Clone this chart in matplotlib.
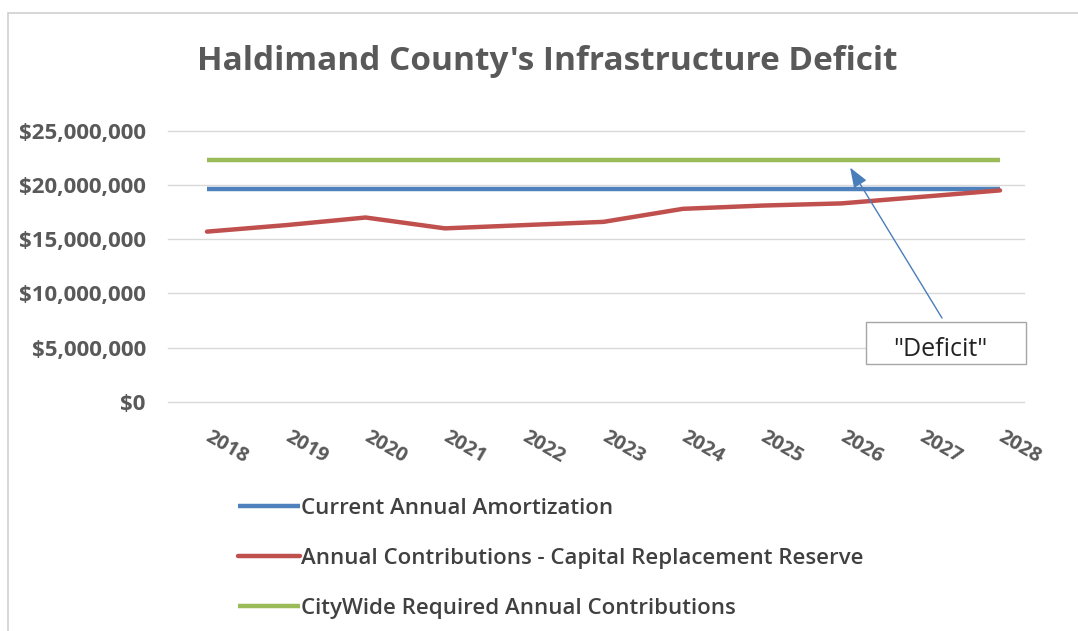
import matplotlib.pyplot as plt
from matplotlib.patches import Rectangle
from matplotlib.ticker import FuncFormatter

plt.rcParams['font.family'] = ['Open Sans', 'DejaVu Sans']

# data
years = [2018, 2019, 2020, 2021, 2022, 2023, 2024, 2025, 2026, 2027, 2028]
amortization = [19600000] * 11
reserve = [15700000, 16300000, 17000000, 16000000, 16300000, 16600000,
           17800000, 18100000, 18300000, 18900000, 19500000]
required = [22300000] * 11
series_names = ["Current Annual Amortization",
                "Annual Contributions - Capital Replacement Reserve",
                "CityWide Required Annual Contributions"]

W, H = 1078, 631
fig = plt.figure(figsize=(W / 100, H / 100), dpi=100)
ax = fig.add_axes([168 / W, 1 - 402 / H, (1024 - 168) / W, (402 - 130.7) / H])

grey = "#595959"
ax.plot(years, amortization, color="#4f81bd", lw=3.2, label=series_names[0], solid_capstyle="butt")
ax.plot(years, reserve, color="#c0504d", lw=3.2, label=series_names[1], solid_capstyle="round")
ax.plot(years, required, color="#9bbb59", lw=3.2, label=series_names[2], solid_capstyle="butt")

ax.set_ylim(0, 25000000)
ax.set_xlim(2018 - 39 / 79.3, 2028 + 24 / 79.3)
ax.set_yticks(range(0, 25000001, 5000000))
ax.yaxis.set_major_formatter(FuncFormatter(lambda v, p: "${:,.0f}".format(v)))
ax.set_xticks(years)
ax.set_xticklabels([str(y) for y in years], rotation=-30, ha="left", va="center",
                   rotation_mode="anchor")
ax.grid(axis="y", color="#d9d9d9", lw=1)
for gl in ax.get_ygridlines():
    gl.set_clip_on(False)
ax.set_axisbelow(True)
for s in ax.spines.values():
    s.set_visible(False)
ax.tick_params(axis="y", length=0, pad=16, labelsize=16, labelcolor=grey)
ax.tick_params(axis="x", length=0, pad=24, labelsize=14.5, labelcolor=grey)
for lbl in ax.get_xticklabels() + ax.get_yticklabels():
    lbl.set_fontweight("bold")

fig.text(547 / W, 1 - 62 / H, "Haldimand County's Infrastructure Deficit",
         ha="center", va="center", fontsize=24, fontweight="bold", color=grey)

# "Deficit" callout
fig.patches.append(Rectangle((866, H - 364), 160, 42, transform=None,
                             facecolor="white", edgecolor="#a6a6a6", lw=1, zorder=5))
fig.text(940 / W, 1 - 350 / H, '"Deficit"', ha="center", va="center",
         fontsize=18, color="#222222", zorder=6)
ax.annotate("", xy=(2026.11, 21600000), xytext=(942, H - 318),
            textcoords="figure pixels",
            arrowprops=dict(arrowstyle="-|>,head_length=1.2,head_width=0.45",
                            color="#4a7ebb", lw=1, shrinkA=0, shrinkB=0))

leg = fig.legend(loc="upper left", bbox_to_anchor=(218 / W, 1 - 478 / H), frameon=False,
                 handlelength=2.8, handletextpad=0.05, labelspacing=1.3,
                 fontsize=16, labelcolor="#404040")
for t in leg.get_texts():
    t.set_fontweight("semibold")

# light chart border
fig.patches.append(Rectangle((8, -5), W, H - 13 + 5, transform=None, facecolor="none",
                             edgecolor="#d0d0d0", lw=1.2))

fig.savefig("out.png", dpi=100)
